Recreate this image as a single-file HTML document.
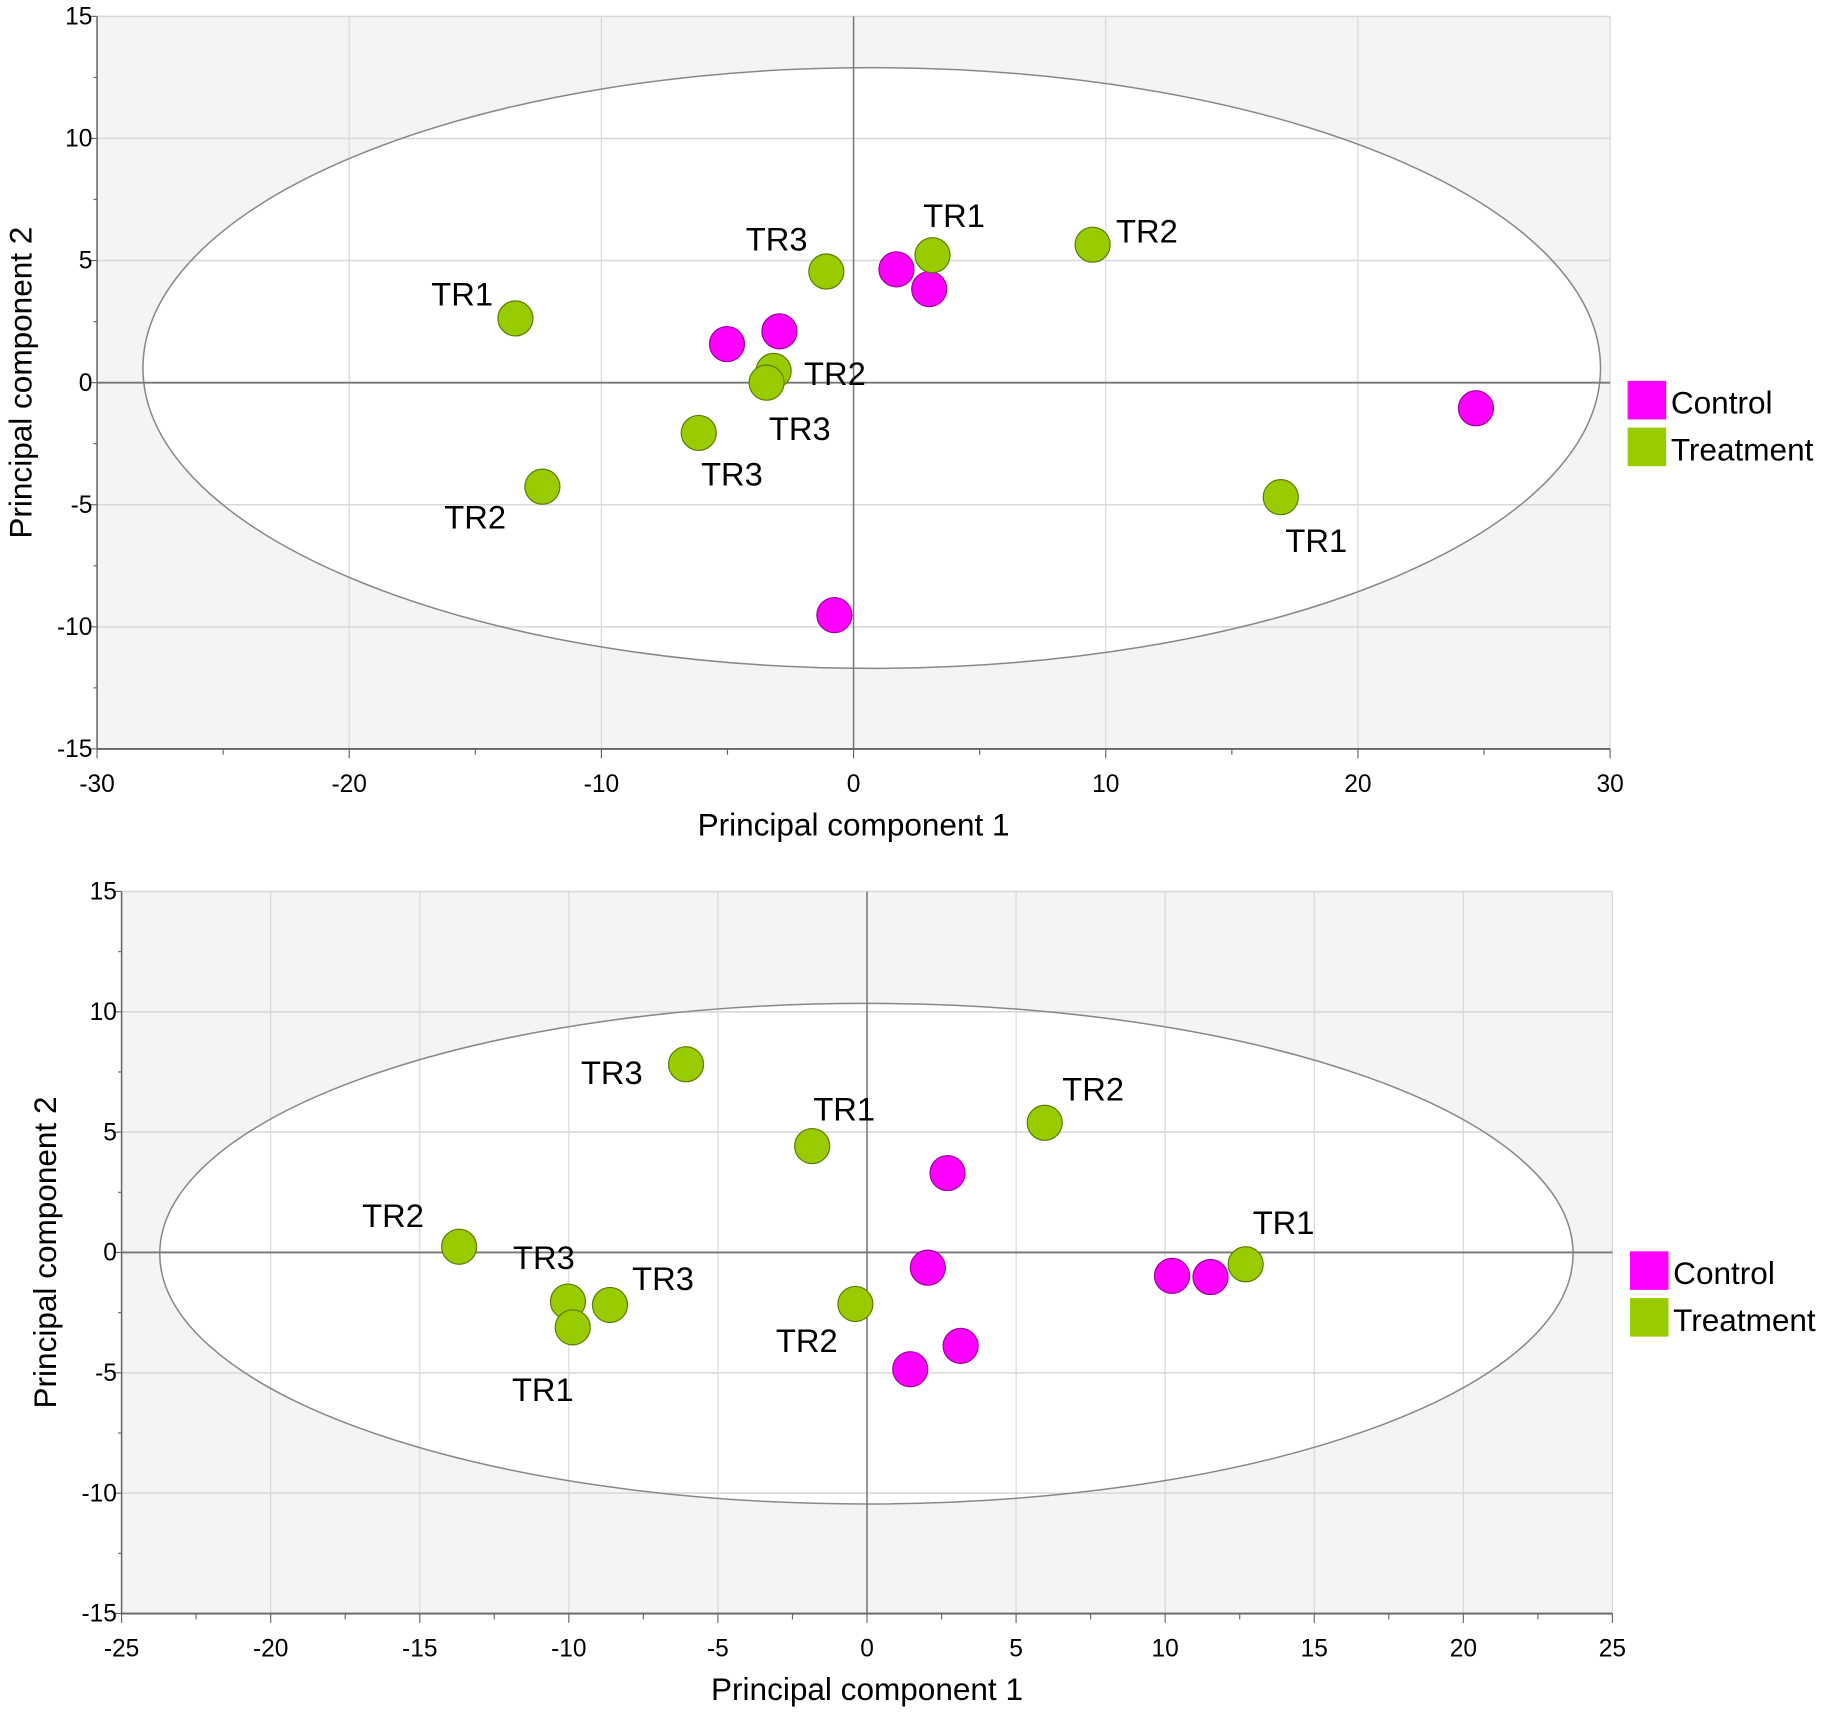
<!DOCTYPE html>
<html><head><meta charset="utf-8"><style>
html,body{margin:0;padding:0;background:#fff;}
svg{display:block;}
text{font-family:"Liberation Sans",sans-serif;fill:#000;}
</style></head><body>
<svg id="fig" width="1831" height="1714" viewBox="0 0 1567 1467" xmlns="http://www.w3.org/2000/svg"></svg>
<script>
// ---- Top chart data ----
const topCtrlX = [1.70, 3.00, -5.02, -2.94, -0.76, 24.68];
const topCtrlY = [4.64, 3.83, 1.58, 2.10, -9.52, -1.05];
const topTrtX = [-13.41, -1.08, 3.13, 9.48, -3.17, -3.45, -6.14, -12.34, 16.94];
const topTrtY = [2.63, 4.55, 5.22, 5.65, 0.48, 0.00, -2.06, -4.26, -4.69];
const topTrtLabels = ["TR1","TR3","TR1","TR2","TR2","TR3","TR3","TR2","TR1"];
const topXTicks = [-30,-20,-10,0,10,20,30];
const topYTicks = [-15,-10,-5,0,5,10,15];
const topEllipse = [0.72, 0.6, 28.9, 12.3]; // cx, cy, rx, ry in data units
// ---- Bottom chart data ----
const botCtrlX = [2.70, 2.04, 10.23, 11.52, 3.14, 1.45];
const botCtrlY = [3.30, -0.63, -0.97, -1.02, -3.88, -4.85];
const botTrtX = [-6.07, -1.84, 5.96, -13.68, 12.70, -10.03, -8.62, -9.87, -0.39];
const botTrtY = [7.82, 4.42, 5.39, 0.24, -0.49, -2.04, -2.18, -3.11, -2.14];
const botTrtLabels = ["TR3","TR1","TR2","TR2","TR1","TR3","TR3","TR1","TR2"];
const botXTicks = [-25,-20,-15,-10,-5,0,5,10,15,20,25];
const botYTicks = [-15,-10,-5,0,5,10,15];
const botEllipse = [-0.02, -0.05, 23.7, 10.4];

// label offsets (layout, px)
const topLabOff = [[-72,-11],[-69,-18],[-8,-24],[20,-2],[26,12],[2,49],[2,45],[-84,36],[4,47]];
const botLabOff = [[-90,17],[1,-22],[15,-19],[-83,-17],[6,-26],[-47,-28],[19,-13],[-52,63],[-68,41]];

const NS = "http://www.w3.org/2000/svg";
const svg = document.getElementById('fig');
function mk(tag, attrs, parent){
  const e = document.createElementNS(NS, tag);
  for (const k in attrs) e.setAttribute(k, attrs[k]);
  (parent||svg).appendChild(e);
  return e;
}

function chart(cfg){
  const g = mk('g', {});
  
  
  const xmin = cfg.xt[0], xmax = cfg.xt[cfg.xt.length-1];
  const ymin = cfg.yt[0], ymax = cfg.yt[cfg.yt.length-1];
  const X = v => cfg.L + (v - xmin) / (xmax - xmin) * (cfg.R - cfg.L);
  const Y = v => cfg.B - (v - ymin) / (ymax - ymin) * (cfg.B - cfg.T);
  const bg = mk('rect', {x:cfg.L, y:cfg.T, width:cfg.R-cfg.L, height:cfg.B-cfg.T, fill:'#f4f4f4'}, g);
  
  
  const el = cfg.ell;
  const ell = mk('ellipse', {cx:X(el[0]), cy:Y(el[1]), rx:Math.abs(X(el[2])-X(0)), ry:Math.abs(Y(el[3])-Y(0)), fill:'#fff', stroke:'none'}, g);
  
  
  // grid
  cfg.xt.forEach(t => {
    const l = mk('line', {x1:X(t), x2:X(t), y1:cfg.T, y2:cfg.B, stroke:'#d8d8d8', 'stroke-width':1}, g);
    
    
  });
  cfg.yt.forEach(t => {
    const l = mk('line', {x1:cfg.L, x2:cfg.R, y1:Y(t), y2:Y(t), stroke:'#d8d8d8', 'stroke-width':1.3}, g);
    
    
  });
  const ell2 = mk('ellipse', {cx:X(el[0]), cy:Y(el[1]), rx:Math.abs(X(el[2])-X(0)), ry:Math.abs(Y(el[3])-Y(0)), fill:'none', stroke:'#888', 'stroke-width':1.3}, g);
  
  
  // zero lines
  const z1 = mk('line', {x1:X(0), x2:X(0), y1:cfg.T, y2:cfg.B, stroke:'#777', 'stroke-width':1.3}, g);
  
  
  const z2 = mk('line', {x1:cfg.L, x2:cfg.R, y1:Y(0), y2:Y(0), stroke:'#777', 'stroke-width':1.6}, g);
  
  
  // axes
  const ax = mk('line', {x1:cfg.L, x2:cfg.R, y1:cfg.B, y2:cfg.B, stroke:'#666', 'stroke-width':1.6}, g);
  
  
  const ay = mk('line', {x1:cfg.L, x2:cfg.L, y1:cfg.T, y2:cfg.B, stroke:'#666', 'stroke-width':1.3}, g);
  
  
  const xs = cfg.xt[1]-cfg.xt[0];
  for (let i=0;i<cfg.xt.length;i++){
    const t = cfg.xt[i];
    mk('line', {x1:X(t), x2:X(t), y1:cfg.B, y2:cfg.B+8, stroke:'#666'}, g);
    if (i < cfg.xt.length-1) mk('line', {x1:X(t+xs/2), x2:X(t+xs/2), y1:cfg.B, y2:cfg.B+5, stroke:'#666'}, g);
    const tx = mk('text', {x:X(t), y:cfg.B+37, 'text-anchor':'middle', 'font-size':21}, g);
    tx.textContent = t;
    
    
  }
  const ys = cfg.yt[1]-cfg.yt[0];
  for (let i=0;i<cfg.yt.length;i++){
    const t = cfg.yt[i];
    mk('line', {x1:cfg.L-6, x2:cfg.L, y1:Y(t), y2:Y(t), stroke:'#666'}, g);
    if (i < cfg.yt.length-1) mk('line', {x1:cfg.L-3, x2:cfg.L, y1:Y(t+ys/2), y2:Y(t+ys/2), stroke:'#666'}, g);
    const ty = mk('text', {x:cfg.L-4, y:Y(t)+7, 'text-anchor':'end', 'font-size':21}, g);
    ty.textContent = t;
    
    
  }
  const xtitle = mk('text', {x:(cfg.L+cfg.R)/2, y:cfg.B+74, 'text-anchor':'middle', 'font-size':27}, g);
  xtitle.textContent = 'Principal component 1';
  
  
  const yc = (cfg.T+cfg.B)/2;
  const ytitle = mk('text', {x:0, y:0, 'text-anchor':'middle', 'font-size':27, transform:`translate(${cfg.ytx},${yc}) rotate(-90)`}, g);
  ytitle.textContent = 'Principal component 2';
  
  
  // points
  cfg.cx.forEach((v,i) => {
    const c = mk('circle', {cx:X(v), cy:Y(cfg.cy[i]), r:15, fill:'#ff00ff', stroke:'#9b009b', 'stroke-width':1}, g);
    
    
  });
  cfg.tx.forEach((v,i) => {
    const px = X(v), py = Y(cfg.ty[i]);
    const c = mk('circle', {cx:px, cy:py, r:15, fill:'#99cc00', stroke:'#5a7a00', 'stroke-width':1}, g);
    
    
    const o = cfg.off[i];
    const lt = mk('text', {x:px+o[0], y:py+o[1], 'font-size':28}, g);
    lt.textContent = cfg.lab[i];
    
    
  });
  // legend
  const lg = mk('g', {}, g);
  
  
  const r1 = mk('rect', {x:cfg.lgx, y:cfg.lgy, width:33, height:33, fill:'#ff00ff'}, lg);
  
  
  const t1 = mk('text', {x:cfg.lgx+37, y:cfg.lgy+28, 'font-size':27}, lg);
  t1.textContent = 'Control';
  
  
  const r2 = mk('rect', {x:cfg.lgx, y:cfg.lgy+40, width:33, height:33, fill:'#99cc00'}, lg);
  
  
  const t2 = mk('text', {x:cfg.lgx+37, y:cfg.lgy+68, 'font-size':27}, lg);
  t2.textContent = 'Treatment';
  
  
}

chart({name:'top-pca-chart', L:83, R:1378, T:14, B:641, xt:topXTicks, yt:topYTicks, ell:topEllipse,
  cx:topCtrlX, cy:topCtrlY, tx:topTrtX, ty:topTrtY, lab:topTrtLabels, off:topLabOff, ytx:27, lgx:1393, lgy:326});
chart({name:'bottom-pca-chart', L:104, R:1380, T:763, B:1381, xt:botXTicks, yt:botYTicks, ell:botEllipse,
  cx:botCtrlX, cy:botCtrlY, tx:botTrtX, ty:botTrtY, lab:botTrtLabels, off:botLabOff, ytx:48, lgx:1395, lgy:1071});
</script>
</body></html>
